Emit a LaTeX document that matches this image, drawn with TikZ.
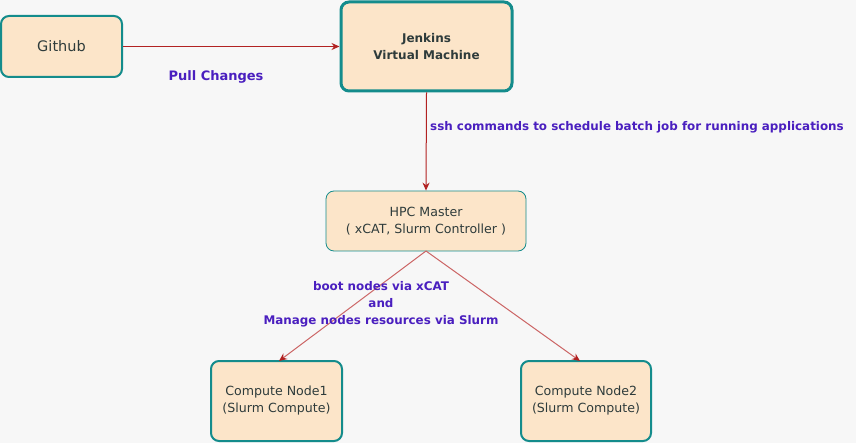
\documentclass[tikz,border=0pt]{standalone}
\usepackage{fontspec}
\setmainfont{DejaVu Sans}
\usetikzlibrary{arrows.meta}
\definecolor{bgc}{HTML}{F7F7F7}
\definecolor{boxfill}{HTML}{FCE5C9}
\definecolor{boxline}{HTML}{148C8C}
\definecolor{arr}{HTML}{B22222}
\definecolor{arrlight}{HTML}{CC6666}
\definecolor{lbl}{HTML}{4A1FBF}
\definecolor{txt}{HTML}{2E3B3B}
\tikzset{
  box/.style={draw=boxline, fill=boxfill, rounded corners=8pt, text=txt, align=center, font=\fontsize{12.6}{17}\selectfont, inner sep=0pt},
  conn/.style={draw=arr, line width=1pt, -{Stealth[length=8pt,width=7pt]}},
  connlight/.style={draw=arrlight, line width=1pt, -{Stealth[length=8pt,width=7pt,color=arr]}},
  lab/.style={text=lbl, font=\bfseries\fontsize{11.9}{17}\selectfont, align=center, inner sep=0pt}
}
\begin{document}
\begin{tikzpicture}[x=1pt,y=-1pt]
\fill[bgc] (0,0) rectangle (856,443);
\useasboundingbox (0,0) rectangle (856,443);
\node[box, line width=2pt, minimum width=121pt, minimum height=61pt, font=\fontsize{14.5}{17}\selectfont] (gh) at (61.5,46.5) {Github};
\node[box, line width=3pt, minimum width=171pt, minimum height=89pt, font=\bfseries\fontsize{12}{17}\selectfont] (jk) at (426.5,46.5) {Jenkins\\Virtual Machine};
\node[box, line width=0.8pt, minimum width=200pt, minimum height=60pt] (hpc) at (426,221) {HPC Master\\( xCAT, Slurm Controller )};
\node[box, line width=2pt, minimum width=131pt, minimum height=80pt] (cn1) at (276.5,401) {Compute Node1\\(Slurm Compute)};
\node[box, line width=2pt, minimum width=130pt, minimum height=80pt] (cn2) at (586,401) {Compute Node2\\(Slurm Compute)};
\coordinate (hb) at (426,251);
\coordinate (c1t) at (279,361);
\coordinate (c2t) at (580,361);
\draw[conn] (gh.east) -- (jk.west);
\draw[conn] (jk.south) -- (hpc.north);
\draw[connlight] (hb) -- (c1t);
\draw[connlight] (hb) -- (c2t);
\node[lab, font=\bfseries\fontsize{13}{17}\selectfont] (pull) at (216,77) {Pull Changes};
\node[lab, anchor=west] (ssh) at (430,127) {ssh commands to schedule batch job for running applications};
\node[lab] (boot) at (381,304) {boot nodes via xCAT\\and\\Manage nodes resources via Slurm};
\end{tikzpicture}
\end{document}
